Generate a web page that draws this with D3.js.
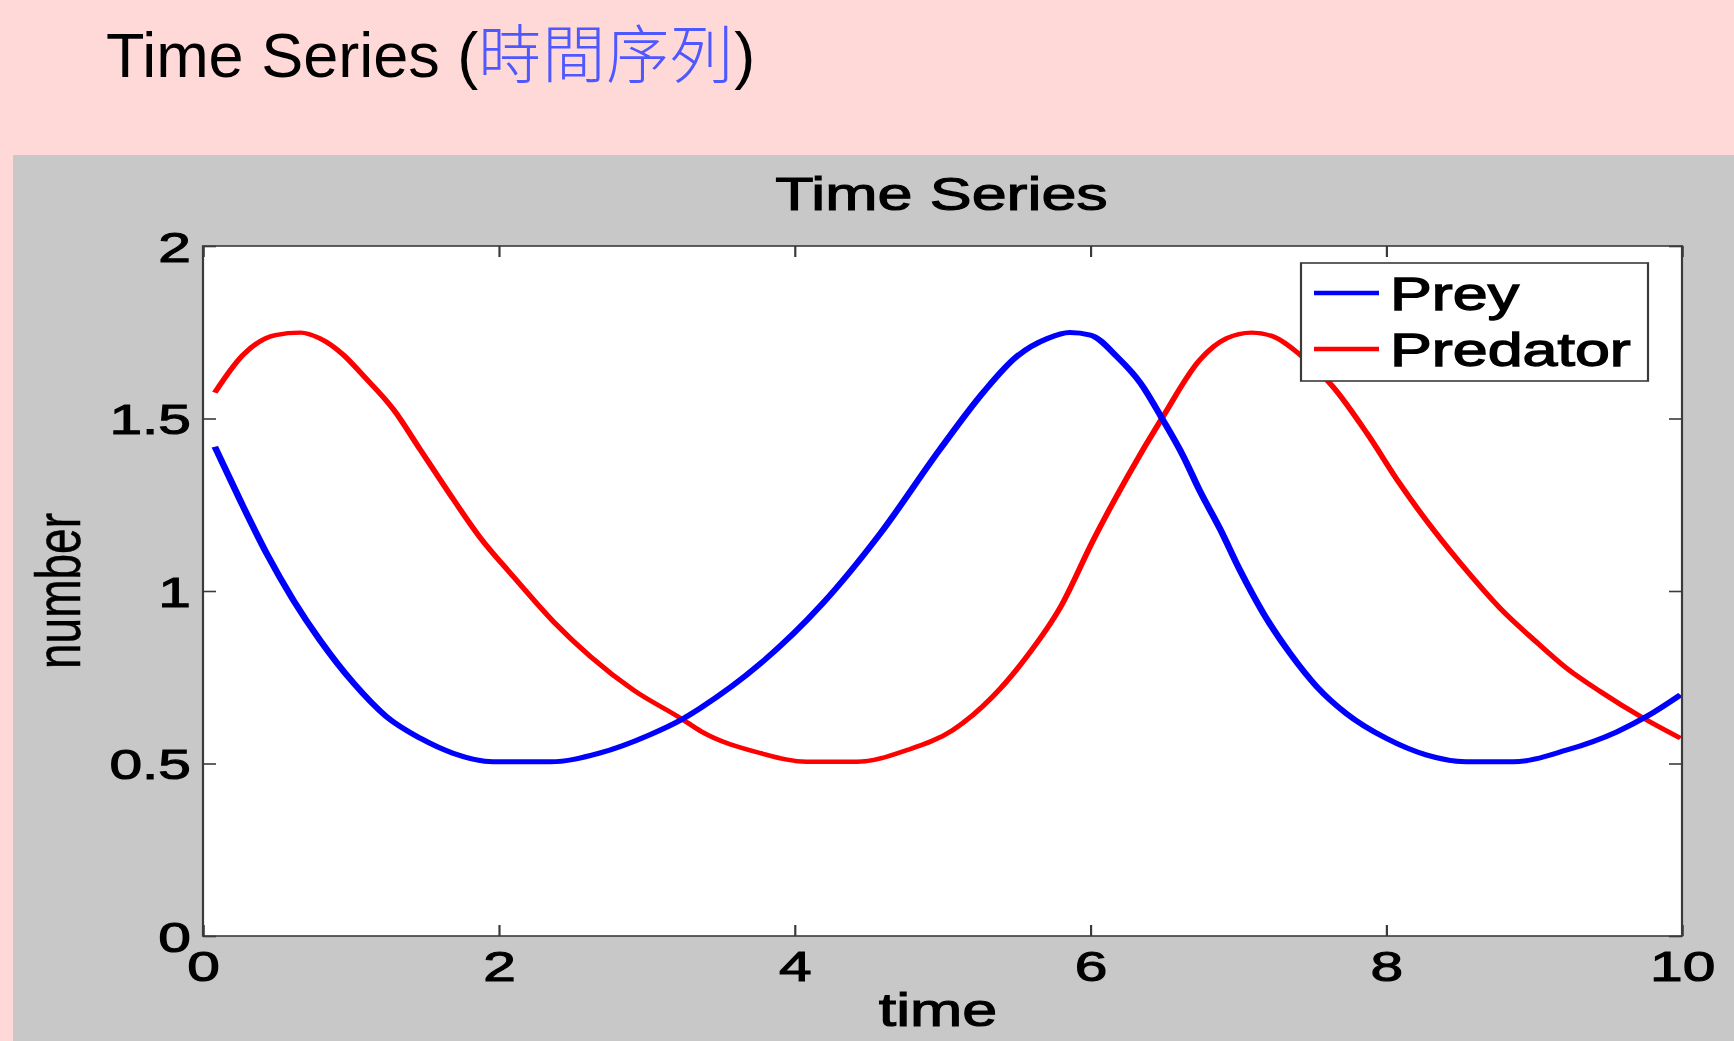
<!DOCTYPE html>
<html>
<head>
<meta charset="utf-8">
<script src="https://cdn.jsdelivr.net/npm/d3@7"></script>
<style>
  html, body { margin: 0; padding: 0; background: #FFD9D8; overflow: hidden; }
  svg { display: block; }
</style>
</head>
<body>
<svg id="chart" width="1734" height="1041"></svg>
<script>
// ---------------- data ----------------
const seriesNames = ["Prey", "Predator"];
const seriesColors = ["#0000FF", "#FF0000"];

const preyTime = [0.08,0.25,0.43,0.61,0.79,1.02,1.24,1.47,1.69,1.96,2.35,2.68,3.02,3.23,3.36,3.77,4.19,4.58,4.98,5.28,5.50,5.71,5.86,6.00,6.18,6.34,6.49,6.63,6.74,6.88,7.01,7.17,7.35,7.53,7.73,8.00,8.27,8.54,8.86,9.22,9.56,9.76,9.99];
const preyValues = [1.418,1.264,1.109,0.974,0.858,0.732,0.636,0.573,0.530,0.505,0.505,0.530,0.583,0.626,0.660,0.790,0.964,1.167,1.409,1.578,1.679,1.732,1.749,1.742,1.679,1.602,1.496,1.389,1.290,1.177,1.061,0.935,0.819,0.723,0.645,0.573,0.525,0.505,0.505,0.539,0.592,0.636,0.699];

const predatorTime = [0.08,0.27,0.49,0.66,0.79,0.95,1.08,1.29,1.47,1.65,1.87,2.10,2.37,2.62,2.91,3.23,3.36,3.77,4.08,4.42,4.76,5.07,5.34,5.57,5.80,6.02,6.25,6.49,6.74,6.92,7.09,7.24,7.42,7.64,7.87,8.09,8.32,8.54,8.77,9.00,9.22,9.45,9.72,9.99];
const predatorValues = [1.575,1.684,1.742,1.749,1.732,1.684,1.626,1.525,1.409,1.293,1.157,1.041,0.911,0.810,0.713,0.631,0.595,0.530,0.505,0.505,0.539,0.597,0.694,0.810,0.955,1.148,1.331,1.505,1.670,1.732,1.749,1.737,1.684,1.592,1.457,1.312,1.177,1.061,0.950,0.858,0.776,0.708,0.636,0.573];

const xTickValues = [0, 2, 4, 6, 8, 10];
const xTickLabels = ["0", "2", "4", "6", "8", "10"];
const yTickValues = [0, 0.5, 1, 1.5, 2];
const yTickLabels = ["0", "0.5", "1", "1.5", "2"];

const slideTitle = "Time Series (";
const slideTitleCJK = "時間序列";
const slideTitleEnd = ")";
const chartTitle = "Time Series";
const xLabel = "time";
const yLabel = "number";

// ---------------- layout ----------------
const SX = 1.365;              // horizontal stretch of the embedded figure
const fx = X => X / SX;        // page x -> local x inside stretched group
const FONT = "'Liberation Sans', Arial, Helvetica, sans-serif";
const AXIS_COLOR = "#3a3a3a";
const TXT_STROKE = 1.1;

const svg = d3.select("#chart");

svg.append("rect").attr("x", 0).attr("y", 0).attr("width", 1734).attr("height", 1041).attr("fill", "#FFD9D8");

// slide title
const st = svg.append("text")
  .attr("x", 106).attr("y", 77)
  .attr("font-family", FONT).attr("font-size", 63).attr("fill", "#000");
st.append("tspan").text(slideTitle);
st.append("tspan").attr("font-family", "'Noto Sans CJK TC', 'Noto Sans CJK SC', sans-serif")
  .attr("font-weight", 300)
  .attr("fill", "#4F58FF").attr("font-size", 63).attr("letter-spacing", 1).text(slideTitleCJK);
st.append("tspan").text(slideTitleEnd);

// figure panel (gray)
svg.append("rect").attr("x", 13).attr("y", 155).attr("width", 1734 - 13).attr("height", 1041 - 155).attr("fill", "#C8C8C8");

const fig = svg.append("g").attr("transform", `scale(${SX},1)`);

const x = d3.scaleLinear().domain([0, 10]).range([fx(203), fx(1682)]);
const y = d3.scaleLinear().domain([0, 2]).range([936, 246]);

fig.append("rect")
  .attr("x", x(0)).attr("y", y(2))
  .attr("width", x(10) - x(0)).attr("height", y(0) - y(2))
  .attr("fill", "#fff");

const line = d3.line().x(d => x(d[0])).y(d => y(d[1])).curve(d3.curveMonotoneX);
const preyData = preyTime.map((t, i) => [t, preyValues[i]]);
const predData = predatorTime.map((t, i) => [t, predatorValues[i]]);

fig.append("path").datum(predData).attr("d", line)
  .attr("fill", "none").attr("stroke", seriesColors[1]).attr("stroke-width", 4.4)
  .attr("stroke-linejoin", "round");
fig.append("path").datum(preyData).attr("d", line)
  .attr("fill", "none").attr("stroke", seriesColors[0]).attr("stroke-width", 5)
  .attr("stroke-linejoin", "round");

function styleAxis(g) {
  g.select(".domain").remove();
  g.selectAll(".tick line").attr("stroke", AXIS_COLOR).attr("stroke-width", 1.6);
  g.selectAll(".tick text").attr("fill", "#000").attr("font-family", FONT).attr("font-size", 43)
    .attr("stroke", "#000").attr("stroke-width", TXT_STROKE);
}

const xAxis = fig.append("g").attr("transform", `translate(0,${y(0)})`)
  .call(d3.axisBottom(x).tickValues(xTickValues)
    .tickFormat((d, i) => xTickLabels[i]).tickSizeInner(-11).tickSizeOuter(0).tickPadding(14));
styleAxis(xAxis);
xAxis.selectAll(".tick text").attr("dy", "0.72em");

const xAxisTop = fig.append("g").attr("transform", `translate(0,${y(2)})`)
  .call(d3.axisTop(x).tickValues(xTickValues).tickFormat("").tickSizeInner(-11).tickSizeOuter(0));
styleAxis(xAxisTop);

const yAxis = fig.append("g").attr("transform", `translate(${x(0)},0)`)
  .call(d3.axisLeft(y).tickValues(yTickValues)
    .tickFormat((d, i) => yTickLabels[i]).tickSizeInner(-13 / SX).tickSizeOuter(0).tickPadding(12 / SX));
styleAxis(yAxis);
yAxis.selectAll(".tick text").attr("dy", "0.36em");

const yAxisRight = fig.append("g").attr("transform", `translate(${x(10)},0)`)
  .call(d3.axisRight(y).tickValues(yTickValues).tickFormat("").tickSizeInner(-13 / SX).tickSizeOuter(0));
styleAxis(yAxisRight);

fig.append("rect")
  .attr("x", x(0)).attr("y", y(2))
  .attr("width", x(10) - x(0)).attr("height", y(0) - y(2))
  .attr("fill", "none").attr("stroke", AXIS_COLOR).attr("stroke-width", 1.6);

fig.append("text").attr("x", fx(941.5)).attr("y", 210)
  .attr("text-anchor", "middle").attr("font-family", FONT).attr("font-size", 46)
  .attr("fill", "#000").attr("stroke", "#000").attr("stroke-width", TXT_STROKE)
  .text(chartTitle);

fig.append("text").attr("x", fx(938)).attr("y", 1026)
  .attr("text-anchor", "middle").attr("font-family", FONT).attr("font-size", 46)
  .attr("fill", "#000").attr("stroke", "#000").attr("stroke-width", TXT_STROKE)
  .text(xLabel);

fig.append("text")
  .attr("transform", `translate(${fx(80)},${(y(0) + y(2)) / 2}) rotate(-90)`)
  .attr("text-anchor", "middle").attr("font-family", FONT).attr("font-size", 46)
  .attr("fill", "#000").attr("stroke", "#000").attr("stroke-width", 0.4)
  .text(yLabel);

const lg = fig.append("g");
lg.append("rect")
  .attr("x", fx(1301)).attr("y", 263)
  .attr("width", fx(1648) - fx(1301)).attr("height", 381 - 263)
  .attr("fill", "#fff").attr("stroke", AXIS_COLOR).attr("stroke-width", 1.6);
const legendRows = [293, 349];
seriesNames.forEach((name, i) => {
  lg.append("line")
    .attr("x1", fx(1314)).attr("x2", fx(1379))
    .attr("y1", legendRows[i]).attr("y2", legendRows[i])
    .attr("stroke", seriesColors[i]).attr("stroke-width", 4.4);
  lg.append("text")
    .attr("x", fx(1390)).attr("y", legendRows[i] + 17)
    .attr("font-family", FONT).attr("font-size", 46)
    .attr("fill", "#000").attr("stroke", "#000").attr("stroke-width", TXT_STROKE + 0.2)
    .text(name);
});
</script>
</body>
</html>
